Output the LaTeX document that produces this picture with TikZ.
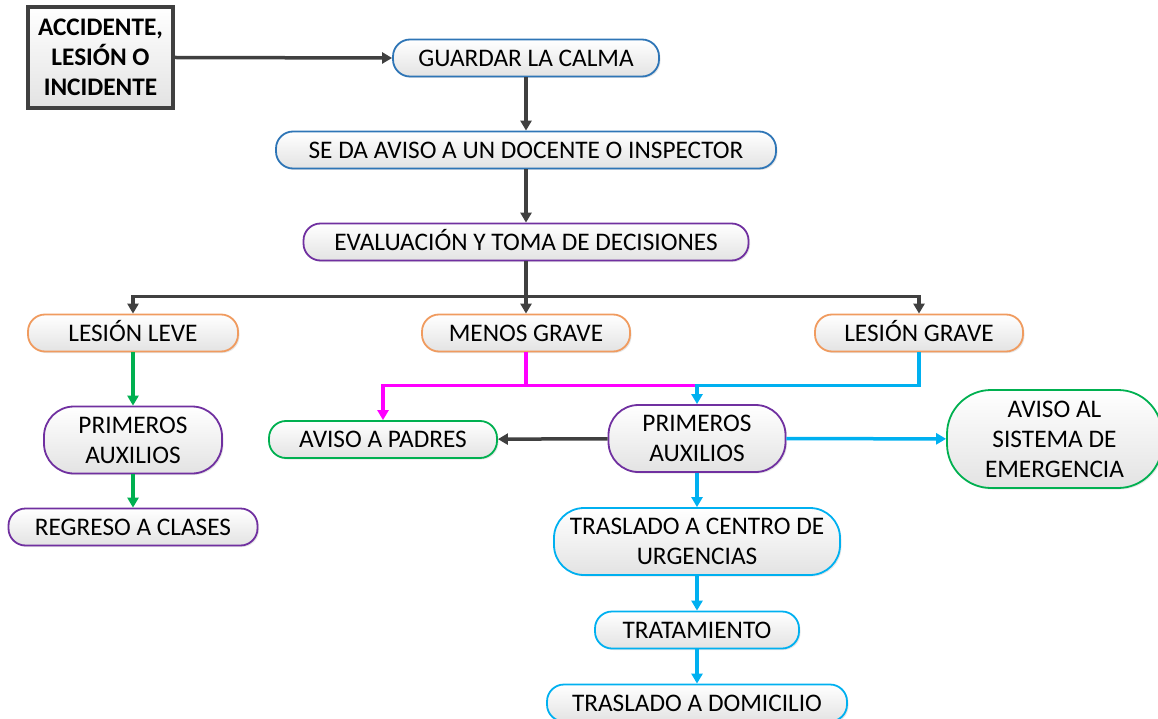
\documentclass[tikz,border=0pt]{standalone}
\usepackage{fontspec}
\setmainfont{Carlito}
\usetikzlibrary{arrows.meta}
\usetikzlibrary{shadows}
\definecolor{gris}{RGB}{64,64,64}
\definecolor{azul}{RGB}{46,117,182}
\definecolor{morado}{RGB}{112,48,160}
\definecolor{naranja}{RGB}{240,155,95}
\definecolor{verde}{RGB}{0,176,80}
\definecolor{celeste}{RGB}{0,176,240}
\definecolor{fucsia}{RGB}{255,0,255}

\begin{document}
\begin{tikzpicture}[x=1pt,y=-1pt]
            \tikzset{line/.style={line width=3.5pt, draw=gris, -{Triangle[length=10pt,width=11pt]}}};
            \tikzset{pill/.style={draw=#1, line width=1.8pt, rounded corners=17pt, top color=white, bottom color=black!11,
                drop shadow={opacity=0.2, shadow xshift=1.5pt, shadow yshift=-1.5pt},
                minimum height=37pt, inner sep=2pt, align=center, font=\fontsize{25.3}{30}\selectfont}};
            \tikzset{box/.style={pill=#1, text height=16.3pt, text depth=0pt}};

            \useasboundingbox (0,0) rectangle (1158,719);

            \node[draw=gris, line width=4pt, top color=white, bottom color=black!11, minimum width=145pt, minimum height=101pt,
                align=center, font=\bfseries\fontsize{25.3}{30}\selectfont] (1) at (100.5,57.5) {ACCIDENTE,\\LESIÓN O\\INCIDENTE};
            \node[box=azul, minimum width=266pt] (2) at (526,58) {GUARDAR LA CALMA};
            \node[box=azul, minimum width=500pt] (3) at (526,150) {SE DA AVISO A UN DOCENTE O INSPECTOR};
            \node[box=morado, minimum width=445pt] (4) at (526,242) {EVALUACIÓN Y TOMA DE DECISIONES};

            \node[box=naranja, minimum width=210pt] (5) at (133,333) {LESIÓN LEVE};
            \node[box=naranja, minimum width=208pt] (6) at (526,333) {MENOS GRAVE};
            \node[box=naranja, minimum width=208pt] (7) at (919,333) {LESIÓN GRAVE};

            \node[pill=morado, minimum width=178pt, minimum height=67pt, rounded corners=30pt] (8) at (133,440) {PRIMEROS\\AUXILIOS};
            \node[box=morado, minimum width=249pt] (9) at (133,527) {REGRESO A CLASES};

            \node[box=verde, minimum width=228pt] (10) at (383,439.5) {AVISO A PADRES};
            \node[pill=morado, minimum width=177pt, minimum height=67pt, rounded corners=30pt] (11) at (697,438.5) {PRIMEROS\\AUXILIOS};
            \node[pill=verde, minimum width=215pt, minimum height=98pt, rounded corners=44pt] (12) at (1054.5,439) {AVISO AL\\SISTEMA DE\\EMERGENCIA};

            \node[pill=celeste, minimum width=286pt, minimum height=67pt, rounded corners=30pt] (13) at (697,541.5) {TRASLADO A CENTRO DE\\URGENCIAS};
            \node[box=celeste, minimum width=204pt] (14) at (697,630) {TRATAMIENTO};
            \node[box=celeste, minimum width=300pt] (15) at (697,703) {TRASLADO A DOMICILIO};

            \draw[line] (1.east) -- (2.west);
            \draw[line] (2) -- (3);
            \draw[line] (3) -- (4);
            \draw[line,-] (4.south) -- ++(0,35) coordinate (a);
            \draw[line] (a) -| (5.north);
            \draw[line] (a) -- (6.north);
            \draw[line] (a) -| (7.north);

            \draw[line, draw=verde] (5) -- (8);
            \draw[line, draw=verde] (8) -- (9);

            \draw[line, draw=fucsia, -] (6.south) -- ++(0,33) coordinate (b);
            \draw[line, draw=fucsia] (b) -| (10.north);
            \draw[line, draw=fucsia, -] (b) -- (b -| 11.north);
            \draw[line, draw=celeste] (7.south) -- ++(0,33) -| (11.north);

            \draw[line] (11) -- (10);
            \draw[line, draw=celeste] (11) -- (12);
            \draw[line, draw=celeste] (11) -- (13);
            \draw[line, draw=celeste] (13) -- (14);
            \draw[line, draw=celeste] (14) -- (15);
        \end{tikzpicture}
\end{document}
